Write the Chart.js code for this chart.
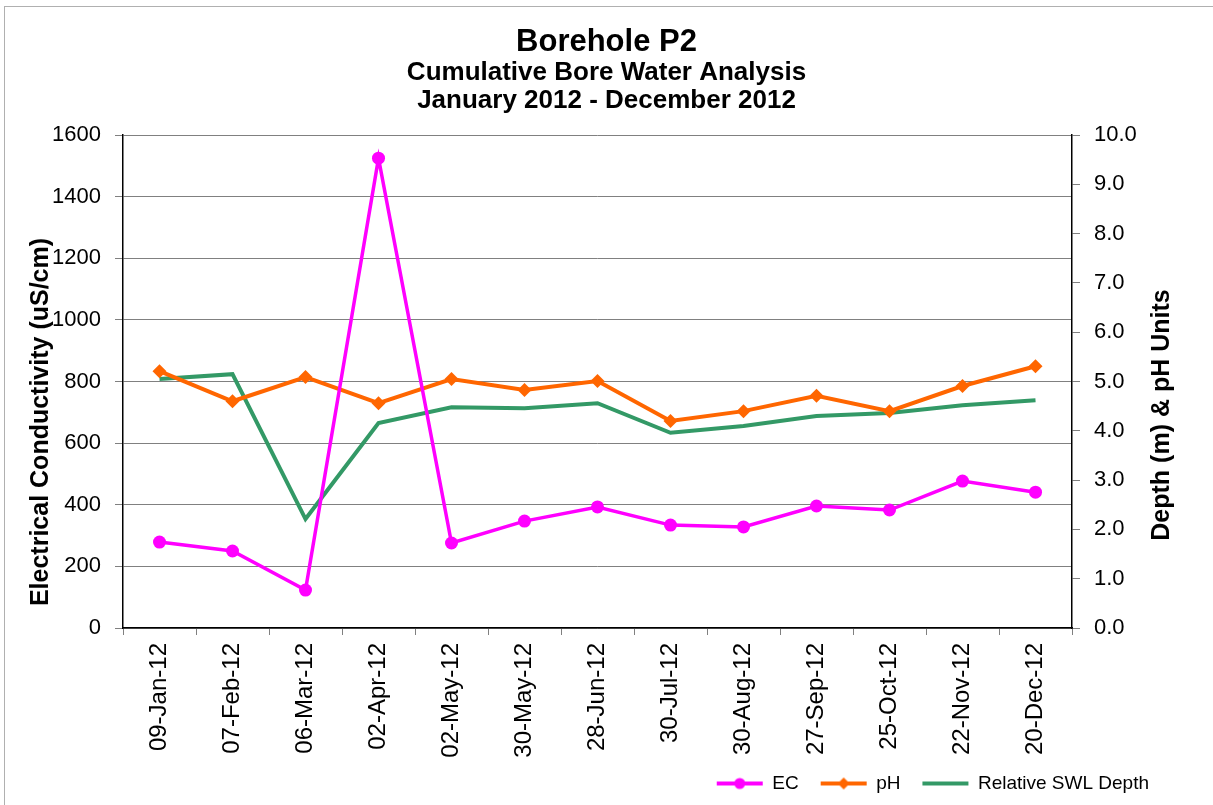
<!DOCTYPE html>
<html>
<head>
<meta charset="utf-8">
<script src="https://cdn.jsdelivr.net/npm/chart.js@4"></script>
<style>
  html, body { margin: 0; padding: 0; background: #fff; }
  #wrap { position: relative; width: 1213px; height: 805px; }
  #frame { position: absolute; left: 4px; top: 6px; width: 1220px; height: 820px; border: 1px solid #b0b0b0; box-sizing: border-box; pointer-events: none; }
</style>
</head>
<body>
<div id="wrap">
  <canvas id="chart" width="1213" height="805"></canvas>
  <div id="frame"></div>
</div>
<script>
const dates = ['09-Jan-12', '07-Feb-12', '06-Mar-12', '02-Apr-12', '02-May-12', '30-May-12', '28-Jun-12',
  '30-Jul-12', '30-Aug-12', '27-Sep-12', '25-Oct-12', '22-Nov-12', '20-Dec-12'];
const ecValues = [279, 250, 123, 1525, 276, 347, 393, 334, 328, 396, 383, 477, 441];
const phValues = [5.21, 4.60, 5.09, 4.56, 5.05, 4.83, 5.01, 4.20, 4.40, 4.71, 4.40, 4.91, 5.31];
const swlValues = [5.05, 5.15, 2.21, 4.16, 4.48, 4.46, 4.56, 3.96, 4.10, 4.30, 4.36, 4.52, 4.62];

const FONT = '"Liberation Sans", Arial, sans-serif';
const EC_COLOR = '#ff00ff';
const PH_COLOR = '#ff6600';
const SWL_COLOR = '#339966';

// little line+marker pictures for the legend
function legendIcon(color, marker) {
  const c = document.createElement('canvas');
  c.width = 50; c.height = 14;
  const g = c.getContext('2d');
  g.strokeStyle = color;
  g.fillStyle = color;
  g.lineWidth = 4;
  g.beginPath();
  g.moveTo(2, 7); g.lineTo(48, 7);
  g.stroke();
  if (marker === 'circle') {
    g.beginPath(); g.arc(25, 7, 5.5, 0, Math.PI * 2); g.fill();
  } else if (marker === 'diamond') {
    g.beginPath(); g.moveTo(25, 1); g.lineTo(31, 7); g.lineTo(25, 13); g.lineTo(19, 7); g.closePath(); g.fill();
  }
  return c;
}

// axis titles sit a bit below the middle of the plot in the original, so draw them by hand
const axisTitles = {
  id: 'axisTitles',
  afterLayout(chart) {
    // pull the legend in from the right edge without moving the centred titles
    if (chart.legend) chart.legend.right -= 42;
    // let the long rotated dates run past the scale box (labels get clipped to it)
    const x = chart.scales.x;
    x.bottom += 16;
    x.height += 16;
  },
  afterDraw(chart) {
    const ctx = chart.ctx;
    ctx.save();
    ctx.fillStyle = '#000';
    ctx.font = 'bold 25px ' + FONT;
    ctx.textAlign = 'center';
    ctx.textBaseline = 'middle';
    ctx.translate(41, 422);
    ctx.rotate(-Math.PI / 2);
    ctx.fillText('Electrical Conductivity (uS/cm)', 0, 0);
    ctx.restore();

    ctx.save();
    ctx.fillStyle = '#000';
    ctx.font = 'bold 25px ' + FONT;
    ctx.textAlign = 'center';
    ctx.textBaseline = 'middle';
    ctx.translate(1162, 415);
    ctx.rotate(-Math.PI / 2);
    ctx.fillText('Depth (m) & pH Units', 0, 0);
    ctx.restore();
  }
};

new Chart(document.getElementById('chart').getContext('2d'), {
  type: 'line',
  data: {
    labels: dates,
    datasets: [
      {
        label: 'EC',
        data: ecValues,
        yAxisID: 'y',
        borderColor: EC_COLOR,
        backgroundColor: EC_COLOR,
        borderWidth: 3.5,
        pointStyle: 'circle',
        pointRadius: 6.5,
        pointBorderWidth: 0,
        tension: 0
      },
      {
        label: 'pH',
        data: phValues,
        yAxisID: 'y1',
        borderColor: PH_COLOR,
        backgroundColor: PH_COLOR,
        borderWidth: 4,
        pointStyle: 'rectRot',
        pointRadius: 7,
        pointBorderWidth: 0,
        tension: 0
      },
      {
        label: 'Relative SWL Depth',
        data: swlValues,
        yAxisID: 'y1',
        borderColor: SWL_COLOR,
        backgroundColor: SWL_COLOR,
        borderWidth: 4,
        pointRadius: 0,
        tension: 0
      }
    ]
  },
  options: {
    responsive: false,
    animation: false,
    layout: { padding: { top: 25, left: 0, right: 0, bottom: 2 } },
    plugins: {
      title: {
        display: true,
        text: 'Borehole P2',
        color: '#000',
        font: { family: FONT, size: 31, weight: 'bold', lineHeight: 1.1 },
        padding: { top: 0, bottom: 0 }
      },
      subtitle: {
        display: true,
        text: ['Cumulative Bore Water Analysis', 'January 2012 - December 2012'],
        color: '#000',
        font: { family: FONT, size: 26, weight: 'bold', lineHeight: 1.077 },
        padding: { top: 0, bottom: 20 }
      },
      legend: {
        position: 'bottom',
        align: 'end',
        labels: {
          color: '#000',
          font: { family: FONT, size: 19 },
          usePointStyle: true,
          pointStyleWidth: 46,
          padding: 22,
          generateLabels(chart) {
            const icons = [legendIcon(EC_COLOR, 'circle'), legendIcon(PH_COLOR, 'diamond'), legendIcon(SWL_COLOR, null)];
            return chart.data.datasets.map((ds, i) => ({
              text: ds.label,
              fontColor: '#000',
              pointStyle: icons[i],
              hidden: false,
              datasetIndex: i,
              lineWidth: 0,
              strokeStyle: 'transparent',
              fillStyle: 'transparent'
            }));
          }
        }
      },
      tooltip: { enabled: false }
    },
    scales: {
      x: {
        offset: true,
        grid: { offset: true, drawOnChartArea: false, drawTicks: true, tickLength: 7, color: '#808080' },
        border: { color: '#000', width: 1.5 },
        ticks: {
          color: '#000',
          font: { family: FONT, size: 24 },
          maxRotation: 90,
          minRotation: 90,
          padding: 8,
          autoSkip: false
        },
        afterFit(scale) { scale.height = 124; }
      },
      y: {
        position: 'left',
        min: 0,
        max: 1600,
        ticks: {
          stepSize: 200,
          color: '#000',
          font: { family: FONT, size: 22 },
          padding: 14,
          callback: v => String(v)
        },
        grid: { color: '#808080', lineWidth: 1, tickLength: 8 },
        border: { color: '#000', width: 1.5 },
        afterFit(scale) { scale.width = 123; }
      },
      y1: {
        position: 'right',
        min: 0,
        max: 10,
        ticks: {
          stepSize: 1,
          color: '#000',
          font: { family: FONT, size: 22 },
          padding: 14,
          callback: v => v.toFixed(1)
        },
        grid: { drawOnChartArea: false, color: '#808080', tickLength: 8 },
        border: { color: '#000', width: 1.5 },
        afterFit(scale) { scale.width = 141; }
      }
    }
  },
  plugins: [axisTitles]
});
</script>
</body>
</html>
